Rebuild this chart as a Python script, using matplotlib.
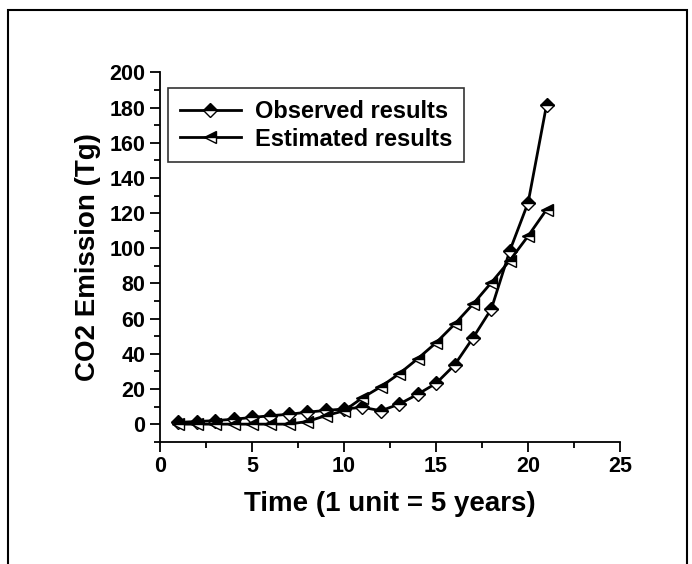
import matplotlib
matplotlib.use("Agg")
import matplotlib.pyplot as plt
from matplotlib.patches import Rectangle
from matplotlib.ticker import MultipleLocator

plt.rcParams['font.family'] = ['Liberation Sans', 'DejaVu Sans']
plt.rcParams['font.weight'] = 'bold'

# time steps (1 unit = 5 years)
time = list(range(1, 22))
observed = [1.0, 1.5, 2.0, 2.8, 3.8, 4.8, 5.6, 6.8, 7.8, 8.6, 9.6, 7.6,
            11.4, 17.0, 23.2, 33.6, 49.0, 65.5, 98.5, 126.0, 181.5]
estimated = [0.0, 0.0, 0.0, 0.0, 0.0, 0.0, 0.0, 1.5, 4.8, 7.6, 15.0, 21.3,
             28.7, 37.2, 46.3, 56.8, 68.2, 80.5, 93.0, 107.0, 122.0]

fig = plt.figure(figsize=(6.92, 5.64), dpi=100)
ax = fig.add_axes([0.2312, 0.2168, 0.665, 0.6547])

ax.plot(time, observed, '-', color='black', lw=2, marker='D', ms=7.5,
        fillstyle='top', markerfacecolor='black', markerfacecoloralt='white',
        markeredgecolor='black', markeredgewidth=1, label='Observed results')
ax.plot(time, estimated, '-', color='black', lw=2, marker='<', ms=9,
        fillstyle='top', markerfacecolor='black', markerfacecoloralt='white',
        markeredgecolor='black', markeredgewidth=1, label='Estimated results')

ax.set_xlim(0, 25)
ax.set_ylim(-10, 200)
ax.xaxis.set_major_locator(MultipleLocator(5))
ax.xaxis.set_minor_locator(MultipleLocator(2.5))
ax.yaxis.set_major_locator(MultipleLocator(20))
ax.yaxis.set_minor_locator(MultipleLocator(10))
ax.set_yticks(range(0, 201, 20))

ax.spines['top'].set_visible(False)
ax.spines['right'].set_visible(False)
for s in ['left', 'bottom']:
    ax.spines[s].set_linewidth(1.3)
ax.tick_params(which='major', direction='out', length=7, width=1.3, labelsize=15.5)
ax.tick_params(which='minor', direction='out', length=4, width=1.3)

ax.set_xlabel('Time (1 unit = 5 years)', fontsize=20, fontweight='bold', labelpad=10)
ax.set_ylabel('CO2 Emission (Tg)', fontsize=20, fontweight='bold', labelpad=6)

leg = ax.legend(loc='upper left', bbox_to_anchor=(0.017, 0.958), fontsize=17,
                frameon=True, fancybox=False, edgecolor='black',
                handlelength=2.6, handletextpad=0.6, borderpad=0.5,
                labelspacing=0.2, borderaxespad=0)
leg.get_frame().set_linewidth(1.2)

# outer frame around the figure
fig.patches.append(Rectangle((8 / 692, -0.05), 679 / 692, 1.05 - 10 / 564,
                             transform=fig.transFigure, fill=False,
                             edgecolor='black', linewidth=1.5))

fig.savefig('out.png', dpi=100)
